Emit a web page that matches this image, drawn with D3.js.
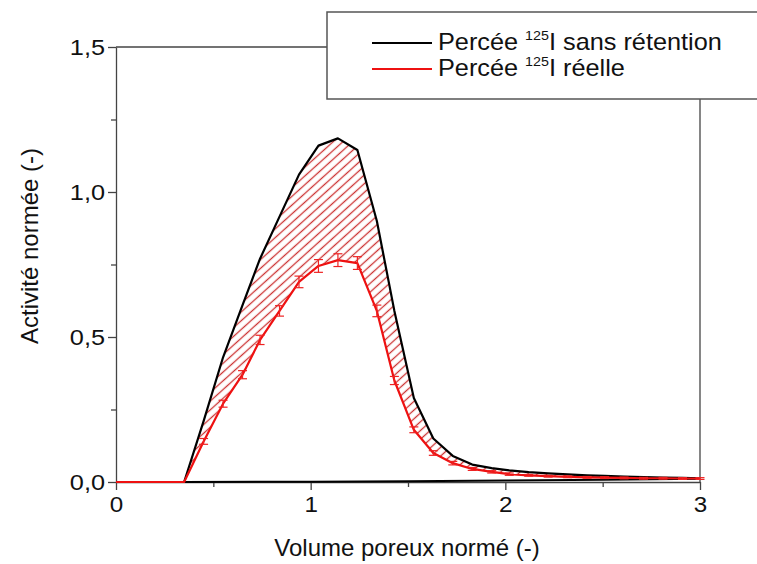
<!DOCTYPE html>
<html><head><meta charset="utf-8">
<script src="https://cdnjs.cloudflare.com/ajax/libs/d3/7.8.5/d3.min.js"></script>
<style>body{margin:0;background:#fff;}svg{display:block;}</style>
</head><body><svg id="c" width="757" height="564"></svg>
<script>
// ---- data ----
const xVals    = [0, 0.35, 0.45, 0.55, 0.65, 0.74, 0.84, 0.94, 1.04, 1.14, 1.24, 1.34, 1.43, 1.53, 1.63, 1.73, 1.83, 1.93, 2.02, 2.12, 2.22, 2.32, 2.42, 2.51, 2.61, 2.71, 2.81, 2.91, 3.0];
const sansRet  = [0, 0, 0.21, 0.43, 0.61, 0.77, 0.915, 1.06, 1.16, 1.185, 1.145, 0.90, 0.59, 0.29, 0.15, 0.09, 0.06, 0.048, 0.040, 0.034, 0.030, 0.026, 0.023, 0.021, 0.019, 0.017, 0.015, 0.014, 0.013];
const reelle   = [0, 0, 0.14, 0.27, 0.37, 0.49, 0.59, 0.69, 0.745, 0.765, 0.755, 0.59, 0.35, 0.18, 0.10, 0.065, 0.045, 0.035, 0.027, 0.023, 0.020, 0.018, 0.016, 0.015, 0.014, 0.013, 0.013, 0.012, 0.012];
const reelleErr= [0, 0, 0.010, 0.012, 0.014, 0.016, 0.018, 0.020, 0.022, 0.022, 0.022, 0.020, 0.014, 0.010, 0.008, 0.006, 0.005, 0.004, 0.004, 0.003, 0.003, 0.003, 0.003, 0.003, 0.003, 0.003, 0.003, 0.003, 0.003];
const baseX    = [0.35, 1.0, 1.5, 2.0, 2.5, 3.0];
const baseY    = [0, 0.001, 0.003, 0.005, 0.008, 0.011];
const xTickVals = [0, 1, 2, 3];
const xTickLabels = ["0", "1", "2", "3"];
const yTickVals = [0, 0.5, 1.0, 1.5];
const yTickLabels = ["0,0", "0,5", "1,0", "1,5"];
const legendNames = ["sans rétention", "réelle"];
const xTitle = "Volume poreux normé (-)";
const yTitle = "Activité normée (-)";

// ---- layout ----
const L = 116, R = 700, T = 47, B = 482;
const svg = d3.select("#c");
const font = "'Liberation Sans', Arial, sans-serif";
const x = d3.scaleLinear().domain([0, 3]).range([L, R]);
const y = d3.scaleLinear().domain([0, 1.5]).range([B, T]);

// hatch pattern
const defs = svg.append("defs");
const pat = defs.append("pattern").attr("id", "hatch").attr("patternUnits", "userSpaceOnUse")
  .attr("width", 6.5).attr("height", 6.5).attr("patternTransform", "rotate(-42)");
pat.append("line").attr("x1", -2).attr("x2", 9).attr("y1", 3.25).attr("y2", 3.25)
  .attr("stroke", "#cc3333").attr("stroke-width", 1.3);

const pts = xVals.map((v, i) => ({x: v, b: sansRet[i], r: reelle[i], e: reelleErr[i]}));

// hatched area between curves
svg.append("path").datum(pts.slice(1))
  .attr("d", d3.area().x(d => x(d.x)).y0(d => y(d.r)).y1(d => y(d.b)))
  .attr("fill", "url(#hatch)");

// frame (top and right)
svg.append("line").attr("x1", L).attr("x2", R).attr("y1", T).attr("y2", T).attr("stroke", "#444").attr("stroke-width", 1.3);
svg.append("line").attr("x1", R).attr("x2", R).attr("y1", T).attr("y2", B).attr("stroke", "#444").attr("stroke-width", 1.3);

// axes
const gx = svg.append("g").attr("transform", `translate(0,${B})`)
  .call(d3.axisBottom(x).tickValues(xTickVals).tickFormat((d, i) => xTickLabels[i]).tickSizeInner(8).tickSizeOuter(0).tickPadding(6));
const gxm = svg.append("g").attr("transform", `translate(0,${B})`)
  .call(d3.axisBottom(x).tickValues([0.5, 1.5, 2.5]).tickFormat("").tickSizeInner(5).tickSizeOuter(0));
const gy = svg.append("g").attr("transform", `translate(${L},0)`)
  .call(d3.axisLeft(y).tickValues(yTickVals).tickFormat((d, i) => yTickLabels[i]).tickSizeInner(8).tickSizeOuter(0).tickPadding(3));
const gym = svg.append("g").attr("transform", `translate(${L},0)`)
  .call(d3.axisLeft(y).tickValues([0.25, 0.75, 1.25]).tickFormat("").tickSizeInner(5).tickSizeOuter(0));
[gx, gxm, gy, gym].forEach(g => {
  g.selectAll("path.domain").attr("stroke", "#444").attr("stroke-width", 1.3);
  g.selectAll(".tick line").attr("stroke", "#444").attr("stroke-width", 1.3);
  g.selectAll("text").attr("font-family", font).attr("font-size", 22).attr("fill", "#111");
});
gy.selectAll(".tick text").attr("x", -11 / 1.15).attr("transform", "scale(1.15,1)");
gx.selectAll(".tick text").attr("transform", "scale(1.1,1)");
gxm.select("path.domain").remove();
gym.select("path.domain").remove();

// baseline series
svg.append("path").datum(baseX.map((v, i) => [v, baseY[i]]))
  .attr("d", d3.line().x(d => x(d[0])).y(d => y(d[1])))
  .attr("fill", "none").attr("stroke", "#000").attr("stroke-width", 2);

// black curve
svg.append("path").datum(pts)
  .attr("d", d3.line().x(d => x(d.x)).y(d => y(d.b)))
  .attr("fill", "none").attr("stroke", "#000").attr("stroke-width", 2.2).attr("stroke-linejoin", "round");

// red curve
svg.append("path").datum(pts)
  .attr("d", d3.line().x(d => x(d.x)).y(d => y(d.r)))
  .attr("fill", "none").attr("stroke", "#ee1111").attr("stroke-width", 2.2).attr("stroke-linejoin", "round");

// error bars
const eb = svg.append("g").attr("stroke", "#ee2222").attr("stroke-width", 1.2);
pts.filter(d => d.e > 0).forEach(d => {
  eb.append("line").attr("x1", x(d.x)).attr("x2", x(d.x)).attr("y1", y(d.r - d.e)).attr("y2", y(d.r + d.e));
  eb.append("line").attr("x1", x(d.x) - 4.5).attr("x2", x(d.x) + 4.5).attr("y1", y(d.r - d.e)).attr("y2", y(d.r - d.e));
  eb.append("line").attr("x1", x(d.x) - 4.5).attr("x2", x(d.x) + 4.5).attr("y1", y(d.r + d.e)).attr("y2", y(d.r + d.e));
});

// axis titles
svg.append("text").attr("x", (L + R) / 2 - 1).attr("y", 556).attr("text-anchor", "middle")
  .attr("font-family", font).attr("font-size", 24).attr("fill", "#111").text(xTitle);
svg.append("text").attr("transform", `translate(38,246) rotate(-90)`).attr("text-anchor", "middle")
  .attr("font-family", font).attr("font-size", 24).attr("fill", "#111").text(yTitle);

// legend
svg.append("rect").attr("x", 327).attr("y", 12).attr("width", 440).attr("height", 87)
  .attr("fill", "#fff").attr("stroke", "#555").attr("stroke-width", 1.5);
const colors = ["#000", "#ee1111"];
legendNames.forEach((name, i) => {
  const ly = 43 + i * 26;
  svg.append("line").attr("x1", 372).attr("x2", 432).attr("y1", ly).attr("y2", ly)
    .attr("stroke", colors[i]).attr("stroke-width", 2.2);
  const t = svg.append("text").attr("transform", `translate(438,${ly + 7}) scale(1.1,1)`)
    .attr("font-family", font).attr("font-size", 23).attr("fill", "#111");
  t.append("tspan").text("Percée ");
  t.append("tspan").attr("font-size", 13).attr("dy", -10).text("125");
  t.append("tspan").attr("dy", 10).text("I " + name);
});
</script>
</body></html>
